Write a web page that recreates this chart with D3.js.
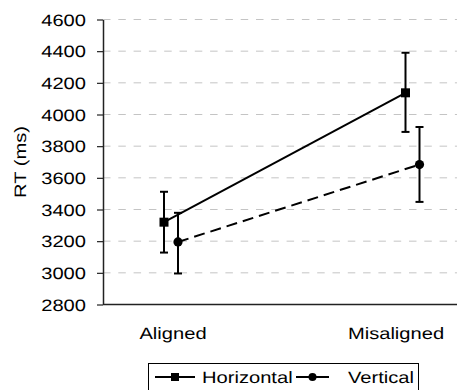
<!DOCTYPE html>
<html>
<head>
<meta charset="utf-8">
<script src="https://cdn.jsdelivr.net/npm/d3@7"></script>
<style>
  html, body { margin: 0; padding: 0; background: #fff; }
  svg { display: block; }
  text { font-family: "Liberation Sans", Arial, sans-serif; fill: #000; font-weight: 400; text-rendering: geometricPrecision; }
</style>
</head>
<body>
<script>
const categories = ["Aligned", "Misaligned"];
const seriesNames = ["Horizontal", "Vertical"];
const horizontalMean = [3320, 4137];
const horizontalLow  = [3128, 3890];
const horizontalHigh = [3512, 4390];
const verticalMean   = [3195, 3684];
const verticalLow    = [2996, 3448];
const verticalHigh   = [3379, 3921];
const yTicks = [2800, 3000, 3200, 3400, 3600, 3800, 4000, 4200, 4400, 4600];
const yTitle = "RT (ms)";

const W = 458, H = 390;
const FS = 16.5, SX = 1.22;
const plotLeft = 103, plotRight = 457, plotTop = 19.5, plotBottom = 304.5;

const svg = d3.select("body").append("svg").attr("width", W).attr("height", H);

const y = d3.scaleLinear().domain([2800, 4600]).range([plotBottom, plotTop]);
const x = d3.scalePoint().domain(categories).range([171, 412.5]);
const xLabel = d3.scalePoint().domain(categories).range([173, 396]);
const offset = d3.scalePoint().domain(seriesNames).range([-7, 7]);

// gridlines
svg.append("g").selectAll("line")
  .data(yTicks.filter(t => t !== 2800))
  .join("line")
  .attr("x1", plotLeft).attr("x2", plotRight)
  .attr("y1", d => y(d)).attr("y2", d => y(d))
  .attr("stroke", "#c4c4c4").attr("stroke-width", 1)
  .attr("stroke-dasharray", "7.5,7.8");

// y axis
const yAxis = svg.append("g")
  .attr("transform", `translate(${plotLeft},0)`)
  .call(d3.axisLeft(y).tickValues(yTicks).tickSize(6).tickSizeOuter(0).tickFormat(d3.format("d")));
yAxis.select(".domain").attr("stroke", "#222").attr("stroke-width", 1.5);
yAxis.selectAll(".tick line").attr("stroke", "#222").attr("stroke-width", 1.2);
yAxis.selectAll(".tick text")
  .attr("x", 0).attr("dy", "0.35em")
  .attr("transform", `translate(-17,0) scale(${SX},1)`)
  .style("font-size", FS + "px")
  .style("font-family", '"Liberation Sans", Arial, sans-serif')
  .attr("fill", "#000");

// x axis line
svg.append("line")
  .attr("x1", plotLeft).attr("x2", plotRight)
  .attr("y1", plotBottom).attr("y2", plotBottom)
  .attr("stroke", "#222").attr("stroke-width", 1.5);

// category labels
svg.append("g").selectAll("text")
  .data(categories)
  .join("text")
  .attr("transform", d => `translate(${xLabel(d)},339) scale(${SX},1)`)
  .attr("text-anchor", "middle")
  .style("font-size", FS + "px")
  .text(d => d);

// y title
svg.append("text")
  .attr("transform", `translate(26,${(plotTop + plotBottom) / 2}) rotate(-90) scale(${SX},1)`)
  .attr("text-anchor", "middle")
  .attr("fill", "#000")
  .style("font-size", FS + "px")
  .text(yTitle);

const series = [
  { name: "Horizontal", mean: horizontalMean, low: horizontalLow, high: horizontalHigh, dash: null, marker: "square" },
  { name: "Vertical", mean: verticalMean, low: verticalLow, high: verticalHigh, dash: "11,6", marker: "circle" }
];

const line = d3.line().x(d => d[0]).y(d => d[1]);

series.forEach(s => {
  const pts = categories.map((c, i) => [x(c) + offset(s.name), y(s.mean[i])]);
  const g = svg.append("g");
  categories.forEach((c, i) => {
    const cx = x(c) + offset(s.name);
    g.append("line").attr("x1", cx).attr("x2", cx)
      .attr("y1", y(s.low[i])).attr("y2", y(s.high[i]))
      .attr("stroke", "#000").attr("stroke-width", 2);
    [s.low[i], s.high[i]].forEach(v => {
      g.append("line").attr("x1", cx - 4).attr("x2", cx + 4)
        .attr("y1", y(v)).attr("y2", y(v))
        .attr("stroke", "#000").attr("stroke-width", 2);
    });
  });
  g.append("path").attr("d", line(pts))
    .attr("fill", "none").attr("stroke", "#000").attr("stroke-width", 2)
    .attr("stroke-dasharray", s.dash);
  pts.forEach(p => {
    if (s.marker === "square") {
      g.append("rect").attr("x", p[0] - 4.5).attr("y", p[1] - 4.5)
        .attr("width", 9).attr("height", 9).attr("fill", "#000");
    } else {
      g.append("circle").attr("cx", p[0]).attr("cy", p[1]).attr("r", 4.6).attr("fill", "#000");
    }
  });
});

// legend
const lg = svg.append("g");
lg.append("rect").attr("x", 148.5).attr("y", 363.5).attr("width", 270).attr("height", 40)
  .attr("fill", "#fff").attr("stroke", "#000").attr("stroke-width", 1);
const legendItems = [
  { name: "Horizontal", x1: 155, x2: 195, tx: 202, marker: "square", dash: null },
  { name: "Vertical", x1: 296, x2: 329, tx: 348, marker: "circle", dash: null }
];
const ly = 377;
legendItems.forEach(it => {
  lg.append("line").attr("x1", it.x1).attr("x2", it.x2).attr("y1", ly).attr("y2", ly)
    .attr("stroke", "#000").attr("stroke-width", 2).attr("stroke-dasharray", it.dash);
  const mx = (it.x1 + it.x2) / 2;
  if (it.marker === "square") {
    lg.append("rect").attr("x", mx - 4).attr("y", ly - 4).attr("width", 8).attr("height", 8).attr("fill", "#000");
  } else {
    lg.append("circle").attr("cx", mx).attr("cy", ly).attr("r", 4).attr("fill", "#000");
  }
  lg.append("text").attr("transform", `translate(${it.tx},${ly + 5.5}) scale(${SX},1)`)
    .style("font-size", FS + "px").text(it.name);
});
</script>
</body>
</html>
